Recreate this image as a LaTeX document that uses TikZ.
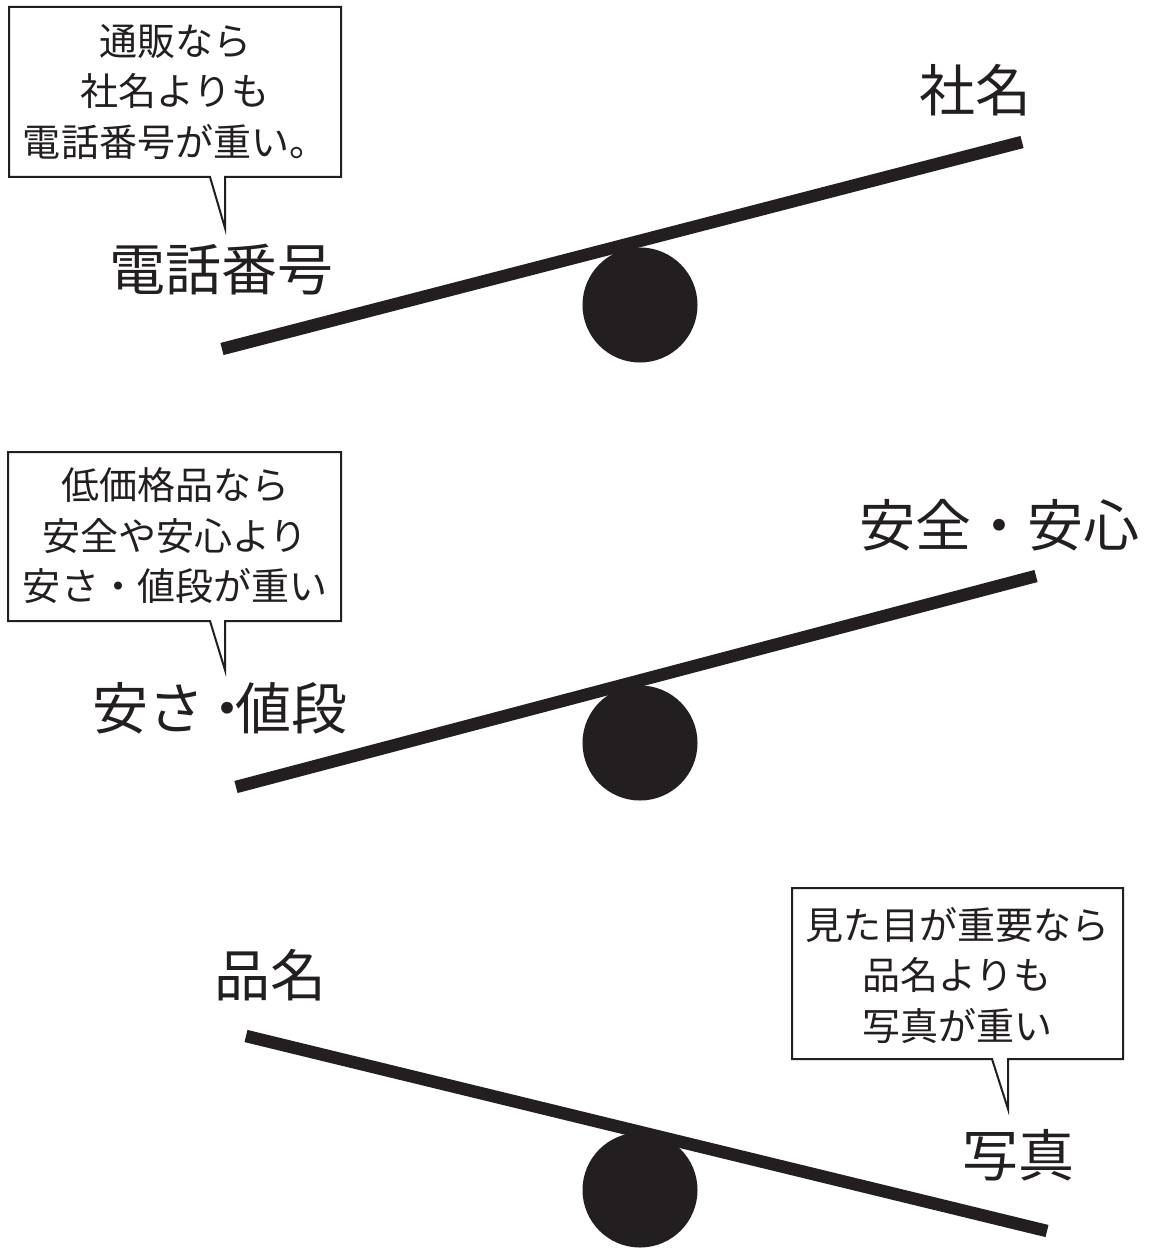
\documentclass[tikz,border=0pt]{standalone}
\usepackage{fontspec}
\newfontfamily\jp{Noto Sans CJK JP}
\definecolor{ink}{HTML}{231F20}
\begin{document}
\begin{tikzpicture}[x=1pt,y=-1pt,
  beam/.style={line width=12.5pt,draw=ink,line cap=butt},
  pivot/.style={fill=ink},
  biglabel/.style={font=\jp\fontsize{56}{60}\selectfont,text=ink,inner sep=0pt},
  bubtext/.style={font=\jp\fontsize{38}{50.5}\selectfont,text=ink,align=center,inner sep=0pt},
  bubble/.style={draw=ink,line width=2pt,fill=white,line join=miter}]
\useasboundingbox (0,0) rectangle (1148,1249);
% ---------- seesaw 1
\fill[pivot] (640,305) circle (57.5);
\coordinate (b1l) at (222,349);
\coordinate (b1r) at (1022,142);
\draw[beam] (b1l) -- (b1r);
\node[biglabel] (l1a) at (975,90) {社名};
\node[biglabel] (l1b) at (221,270) {電話番号};
\draw[bubble] (9,7) -- (341,7) -- (341,177) -- (225,177) -- (225,228) -- (210,177) -- (9,177) -- cycle;
\node[bubtext] (t1) at (175,92) {通販なら\\社名よりも\\電話番号が重い。};
% ---------- seesaw 2
\fill[pivot] (640,743) circle (57.5);
\coordinate (b2l) at (236,787);
\coordinate (b2r) at (1036,576);
\draw[beam] (b2l) -- (b2r);
\node[biglabel] (l2a) at (999,525) {安全・安心};
\node[biglabel] (l2b) at (220,708) {安さ\hspace{-0.1em}・\hspace{-0.36em}値段};
\draw[bubble] (8,452) -- (341,452) -- (341,621) -- (225,621) -- (225,670) -- (210,621) -- (8,621) -- cycle;
\node[bubtext] (t2) at (175,536) {低価格品なら\\安全や安心より\\安さ・値段が重い};
% ---------- seesaw 3
\fill[pivot] (640,1190) circle (57.5);
\coordinate (b3l) at (246,1036);
\coordinate (b3r) at (1047,1231);
\draw[beam] (b3l) -- (b3r);
\node[biglabel] (l3a) at (270,975) {品名};
\node[biglabel] (l3b) at (1018,1155) {写真};
\draw[bubble] (792,888) -- (1123,888) -- (1123,1059) -- (1008,1059) -- (1008,1109) -- (992,1059) -- (792,1059) -- cycle;
\node[bubtext] (t3) at (957,975) {見た目が重要なら\\品名よりも\\写真が重い};
\end{tikzpicture}
\end{document}
